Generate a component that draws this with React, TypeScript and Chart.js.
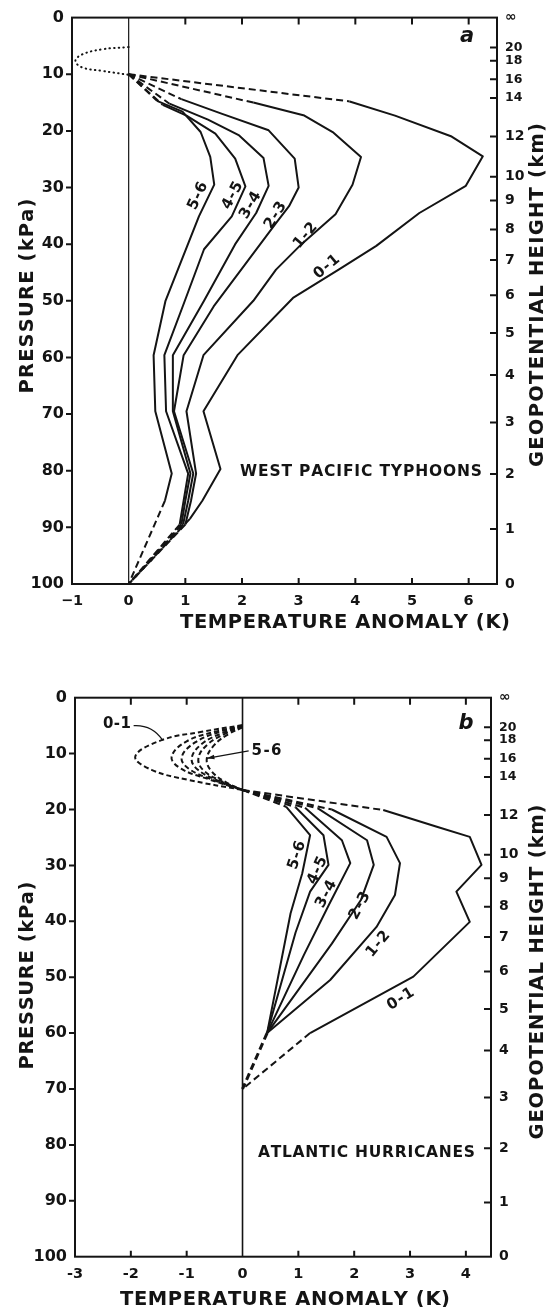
import React, { useEffect, useRef } from "react";
import { Chart, registerables } from "chart.js";
Chart.register(...registerables);

type XY = [number, number];

const FONT = '"DejaVu Sans", sans-serif';
const INK = "#141414";

// ---------- shared axis data ----------
const pTicks = [0, 10, 20, 30, 40, 50, 60, 70, 80, 90, 100];
const pTickLabels = ["0", "10", "20", "30", "40", "50", "60", "70", "80", "90", "100"];
// geopotential height (km) tick positions, given as pressure (kPa)
const zTickPressure = [0, 5.3, 7.6, 10.9, 14.2, 21.0, 28.1, 32.3, 37.4, 42.8, 49.0, 55.7, 63.1, 71.5, 80.6, 90.3, 100];
const zTickLabels = ["∞", "20", "18", "16", "14", "12", "10", "9", "8", "7", "6", "5", "4", "3", "2", "1", "0"];

// ---------- panel a: West Pacific typhoons [T anomaly (K), pressure (kPa)] ----------
const aXTicks = [-1, 0, 1, 2, 3, 4, 5, 6];
const aXTickLabels = ["−1", "0", "1", "2", "3", "4", "5", "6"];

const a01Up: XY[] = [[0, 10], [3.9, 14.8]];
const a01: XY[] = [[3.9, 14.8], [4.7, 17.3], [5.7, 21], [6.25, 24.5], [5.95, 29.7], [5.13, 34.5], [4.37, 40.3], [3.72, 44.4], [2.9, 49.5], [1.92, 59.6], [1.32, 69.5], [1.62, 79.7], [1.3, 85.3], [1.08, 88.5]];
const a01Low: XY[] = [[1.08, 88.5], [0, 100]];

const a12Up: XY[] = [[0, 10], [2.2, 15]];
const a12: XY[] = [[2.2, 15], [3.1, 17.3], [3.6, 20.2], [4.1, 24.6], [3.95, 29.5], [3.65, 34.7], [3.05, 40], [2.6, 44.5], [2.2, 50], [1.32, 59.6], [1.02, 69.5], [1.19, 80.5], [1.1, 85.3], [1.0, 89.5]];
const a12Low: XY[] = [[1.0, 89.5], [0, 100]];

const a23Up: XY[] = [[0, 10], [0.93, 14.4]];
const a23: XY[] = [[0.93, 14.4], [1.65, 17], [2.47, 19.9], [2.93, 24.9], [3.0, 30], [2.83, 33.3], [2.6, 36.3], [1.5, 51], [0.97, 59.6], [0.8, 69.5], [1.14, 80.5], [1.05, 85.3], [0.96, 89.5]];
const a23Low: XY[] = [[0.96, 89.5], [0, 100]];

const a34Up: XY[] = [[0, 10], [0.72, 15.2]];
const a34: XY[] = [[0.72, 15.2], [1.4, 18], [1.95, 20.8], [2.38, 24.8], [2.47, 29.7], [2.25, 34.5], [1.88, 40], [1.33, 50], [0.78, 59.6], [0.78, 69.5], [1.09, 80.5], [1.0, 85.3], [0.93, 89.5]];
const a34Low: XY[] = [[0.93, 89.5], [0, 100]];

const a45Up: XY[] = [[0, 10], [0.6, 15.4]];
const a45: XY[] = [[0.6, 15.4], [1.02, 17.3], [1.53, 20.5], [1.88, 24.9], [2.06, 29.8], [1.82, 35.1], [1.33, 40.9], [0.98, 50.3], [0.63, 59.6], [0.66, 69.5], [1.05, 80.5], [0.97, 85.3], [0.9, 89.5]];
const a45Low: XY[] = [[0.9, 89.5], [0, 100]];

const a56Up: XY[] = [[0, 10], [0.5, 14.7]];
const a56: XY[] = [[0.5, 14.7], [0.95, 16.6], [1.27, 20.2], [1.44, 24.6], [1.51, 29.5], [1.24, 35.1], [0.65, 50], [0.44, 59.6], [0.47, 69.5], [0.76, 80.5], [0.64, 85.3]];
const a56Low: XY[] = [[0.64, 85.3], [0, 100]];

const aDotted: XY[] = [[0, 5.2], [-0.47, 5.6], [-0.82, 6.5], [-0.94, 7.65], [-0.82, 8.8], [-0.47, 9.4], [0, 10.1]];

const aCurveLabels = ["5-6", "4-5", "3-4", "2-3", "1-2", "0-1"];
const aCurveLabelPos: XY[] = [[1.2, 31.4], [1.81, 31.3], [2.13, 33.0], [2.57, 34.8], [3.1, 38.3], [3.48, 43.8]];
const aCurveLabelAngle = [-65, -62, -60, -58, -50, -40];

// ---------- panel b: Atlantic hurricanes ----------
const bXTicks = [-3, -2, -1, 0, 1, 2, 3, 4];
const bXTickLabels = ["-3", "-2", "-1", "0", "1", "2", "3", "4"];

const b01Loop: XY[] = [[0, 4.9], [-0.73, 6.1], [-1.45, 7.6], [-1.92, 10.5], [-1.63, 12.9], [-0.97, 14.7], [0, 16.5]];
const b12Loop: XY[] = [[0, 5.1], [-0.45, 6.0], [-1.0, 7.8], [-1.27, 10.6], [-1.1, 12.7], [-0.6, 14.6], [0, 16.5]];
const b23Loop: XY[] = [[0, 5.1], [-0.4, 6.1], [-0.85, 8.0], [-1.09, 10.7], [-0.95, 12.8], [-0.5, 14.8], [0, 16.5]];
const b34Loop: XY[] = [[0, 5.2], [-0.35, 6.3], [-0.72, 8.2], [-0.91, 10.8], [-0.8, 12.9], [-0.42, 14.9], [0, 16.5]];
const b45Loop: XY[] = [[0, 5.2], [-0.3, 6.4], [-0.62, 8.3], [-0.79, 10.8], [-0.7, 13.0], [-0.36, 15.0], [0, 16.5]];
const b56Loop: XY[] = [[0, 5.3], [-0.25, 6.5], [-0.5, 8.4], [-0.64, 10.9], [-0.56, 13.1], [-0.3, 15.1], [0, 16.5]];

const b01Up: XY[] = [[0, 16.5], [2.52, 20.1]];
const b12Up: XY[] = [[0, 16.5], [1.6, 20.0]];
const b23Up: XY[] = [[0, 16.5], [1.35, 19.8]];
const b34Up: XY[] = [[0, 16.5], [1.12, 19.7]];
const b45Up: XY[] = [[0, 16.5], [0.95, 19.6]];
const b56Up: XY[] = [[0, 16.5], [0.78, 19.5]];

const b01: XY[] = [[2.52, 20.1], [3.48, 23.1], [4.07, 24.9], [4.28, 29.9], [3.83, 34.7], [4.07, 40.1], [3.06, 49.9], [1.21, 60]];
const b12: XY[] = [[1.6, 20.0], [2.58, 24.9], [2.82, 29.6], [2.73, 35.3], [2.4, 41], [1.57, 50.5], [0.44, 60]];
const b23: XY[] = [[1.35, 19.8], [2.23, 25.5], [2.35, 29.9], [2.12, 36.2], [1.6, 44], [0.44, 60]];
const b34: XY[] = [[1.12, 19.7], [1.78, 25.5], [1.93, 29.6], [1.55, 37], [1.1, 46], [0.44, 60]];
const b45: XY[] = [[0.95, 19.6], [1.45, 24.6], [1.54, 29.9], [1.21, 34.7], [0.95, 42], [0.44, 60]];
const b56: XY[] = [[0.78, 19.5], [1.21, 24.6], [1.07, 31.4], [0.86, 38.6], [0.44, 60]];

const b01Low: XY[] = [[1.21, 60], [0, 70]];
const bInnerLow: XY[] = [[0.44, 60], [0, 70]];

const bCurveLabels = ["5-6", "4-5", "3-4", "2-3", "1-2", "0-1"];
const bCurveLabelPos: XY[] = [[0.95, 28.1], [1.32, 30.8], [1.48, 35.0], [2.08, 37.1], [2.41, 43.9], [2.82, 53.7]];
const bCurveLabelAngle = [-72, -65, -62, -62, -50, -32];

// ---------- helpers ----------
type Kind = "solid" | "dash" | "dot" | "curve";
function line(pts: XY[], kind: Kind, width = 2) {
  return {
    data: pts.map(([x, y]) => ({ x, y })),
    borderColor: INK,
    borderWidth: width,
    borderDash: kind === "dash" ? [7, 4] : kind === "curve" ? [5, 3] : kind === "dot" ? [0.5, 4.2] : [],
    borderCapStyle: kind === "dot" ? "round" : "butt",
    borderJoinStyle: "round",
    tension: kind === "dot" || kind === "curve" ? 0.4 : 0,
    pointRadius: 0,
    fill: false,
    clip: false,
  };
}

function spaced(ctx: CanvasRenderingContext2D, text: string, cx: number, cy: number, width: number, size: number, rot = 0, weight = "bold") {
  ctx.save();
  ctx.font = `${weight} ${size}px ${FONT}`;
  ctx.fillStyle = INK;
  ctx.translate(cx, cy);
  if (rot) ctx.rotate(rot);
  const chars = Array.from(text);
  const ws = chars.map((c) => ctx.measureText(c).width);
  const nat = ws.reduce((a, b) => a + b, 0);
  const gap = chars.length > 1 ? (width - nat) / (chars.length - 1) : 0;
  let x = -width / 2;
  ctx.textAlign = "left";
  ctx.textBaseline = "alphabetic";
  chars.forEach((c, i) => {
    ctx.fillText(c, x, size * 0.36);
    x += ws[i] + gap;
  });
  ctx.restore();
}

interface Title { text: string; x: number; y: number; w: number; size: number; rot: number }
interface Spec {
  height: number;
  xMin: number; xMax: number;
  xTicks: number[]; xTickLabels: string[];
  padTop: number; leftW: number; rightW: number; bottomH: number;
  datasets: any[];
  zeroWidth: number;
  titles: Title[];
  letter: { text: string; x: number; y: number };
  caption: { text: string; at: XY; w: number };
  curveLabels: string[]; curveLabelPos: XY[]; curveLabelAngle: number[];
  extras?: (ctx: CanvasRenderingContext2D, px: (v: number) => number, py: (v: number) => number) => void;
}

const specA: Spec = {
  height: 655,
  xMin: -1, xMax: 6.5,
  xTicks: aXTicks, xTickLabels: aXTickLabels,
  padTop: 13, leftW: 72, rightW: 54, bottomH: 71,
  zeroWidth: 1.2,
  datasets: [
    line(aDotted, "dot", 2),
    line(a01Up, "dash"), line(a01, "solid"), line(a01Low, "dash"),
    line(a12Up, "dash"), line(a12, "solid"), line(a12Low, "dash"),
    line(a23Up, "dash"), line(a23, "solid"), line(a23Low, "dash"),
    line(a34Up, "dash"), line(a34, "solid"), line(a34Low, "dash"),
    line(a45Up, "dash"), line(a45, "solid"), line(a45Low, "dash"),
    line(a56Up, "dash"), line(a56, "solid"), line(a56Low, "dash"),
  ],
  titles: [
    { text: "PRESSURE (kPa)", x: 26, y: 296, w: 195, size: 19.5, rot: -Math.PI / 2 },
    { text: "GEOPOTENTIAL HEIGHT (km)", x: 535.5, y: 295, w: 344, size: 19.5, rot: -Math.PI / 2 },
    { text: "TEMPERATURE ANOMALY (K)", x: 345, y: 620.5, w: 330, size: 19.5, rot: 0 },
  ],
  letter: { text: "a", x: 467, y: 37 },
  caption: { text: "WEST PACIFIC TYPHOONS", at: [4.1, 80], w: 242 },
  curveLabels: aCurveLabels, curveLabelPos: aCurveLabelPos, curveLabelAngle: aCurveLabelAngle,
};

const specB: Spec = {
  height: 652,
  xMin: -3, xMax: 4.45,
  xTicks: bXTicks, xTickLabels: bXTickLabels,
  padTop: 42.7, leftW: 75, rightW: 60, bottomH: 50.3,
  zeroWidth: 1.6,
  datasets: [
    line(b01Loop, "curve"), line(b12Loop, "curve"), line(b23Loop, "curve"),
    line(b34Loop, "curve"), line(b45Loop, "curve"), line(b56Loop, "curve"),
    line(b01Up, "dash"), line(b12Up, "dash"), line(b23Up, "dash"),
    line(b34Up, "dash"), line(b45Up, "dash"), line(b56Up, "dash"),
    line(b01, "solid"), line(b12, "solid"), line(b23, "solid"),
    line(b34, "solid"), line(b45, "solid"), line(b56, "solid"),
    line(b01Low, "dash"), line(bInnerLow, "dash", 3),
  ],
  titles: [
    { text: "PRESSURE (kPa)", x: 26, y: 320.5, w: 188, size: 19.5, rot: -Math.PI / 2 },
    { text: "GEOPOTENTIAL HEIGHT (km)", x: 535.5, y: 317, w: 335, size: 19.5, rot: -Math.PI / 2 },
    { text: "TEMPERATURE ANOMALY (K)", x: 285, y: 642.5, w: 330, size: 19.5, rot: 0 },
  ],
  letter: { text: "b", x: 466, y: 69 },
  caption: { text: "ATLANTIC HURRICANES", at: [2.22, 81.1], w: 217 },
  curveLabels: bCurveLabels, curveLabelPos: bCurveLabelPos, curveLabelAngle: bCurveLabelAngle,
  extras: (ctx, px, py) => {
    // "0-1" with curved leader
    spaced(ctx, "0-1", px(-2.25), py(4.5), 28, 15);
    ctx.save();
    ctx.strokeStyle = INK;
    ctx.lineWidth = 1.3;
    ctx.beginPath();
    ctx.moveTo(px(-1.95), py(5.0));
    ctx.quadraticCurveTo(px(-1.62), py(4.8), px(-1.43), py(7.6));
    ctx.stroke();
    // "5-6" with arrow
    spaced(ctx, "5-6", px(0.43), py(9.35), 30, 15);
    const x1 = px(0.11), y1 = py(9.5), x2 = px(-0.64), y2 = py(10.85);
    ctx.beginPath();
    ctx.moveTo(x1, y1);
    ctx.lineTo(x2, y2);
    ctx.stroke();
    const ang = Math.atan2(y2 - y1, x2 - x1);
    ctx.fillStyle = INK;
    ctx.beginPath();
    ctx.moveTo(x2, y2);
    ctx.lineTo(x2 - 8 * Math.cos(ang - 0.3), y2 - 8 * Math.sin(ang - 0.3));
    ctx.lineTo(x2 - 8 * Math.cos(ang + 0.3), y2 - 8 * Math.sin(ang + 0.3));
    ctx.closePath();
    ctx.fill();
    ctx.restore();
  },
};

function buildConfig(spec: Spec): any {
  const deco = {
    id: "deco",
    beforeDatasetsDraw(chart: any) {
      const ctx = chart.ctx as CanvasRenderingContext2D;
      const xs = chart.scales.x, ys = chart.scales.y;
      const x0 = xs.getPixelForValue(0);
      ctx.save();
      ctx.strokeStyle = INK;
      ctx.lineWidth = spec.zeroWidth;
      ctx.beginPath();
      ctx.moveTo(x0, ys.getPixelForValue(0));
      ctx.lineTo(x0, ys.getPixelForValue(100));
      ctx.stroke();
      ctx.restore();
    },
    afterDraw(chart: any) {
      const ctx = chart.ctx as CanvasRenderingContext2D;
      const xs = chart.scales.x, ys = chart.scales.y;
      const { left, right, top, bottom } = chart.chartArea;
      const px = (v: number) => xs.getPixelForValue(v);
      const py = (v: number) => ys.getPixelForValue(v);
      ctx.save();
      ctx.strokeStyle = INK;
      ctx.lineWidth = 2;
      ctx.strokeRect(left, top, right - left, bottom - top);
      ctx.beginPath();
      spec.xTicks.forEach((t) => {
        const x = px(t);
        if (x > left + 2 && x < right - 2 && t !== 0) {
          ctx.moveTo(x, top); ctx.lineTo(x, top + 7);
          ctx.moveTo(x, bottom); ctx.lineTo(x, bottom - 6);
        }
      });
      pTicks.forEach((p) => {
        if (p > 0 && p < 100) { const y = py(p); ctx.moveTo(left - 6, y); ctx.lineTo(left, y); }
      });
      zTickPressure.forEach((p) => {
        if (p > 0 && p < 100) { const y = py(p); ctx.moveTo(right - 7, y); ctx.lineTo(right, y); }
      });
      ctx.stroke();
      ctx.restore();

      spec.titles.forEach((t) => spaced(ctx, t.text, t.x, t.y, t.w, t.size, t.rot));

      ctx.save();
      ctx.font = `italic bold 21px ${FONT}`;
      ctx.fillStyle = INK;
      ctx.textAlign = "center";
      ctx.textBaseline = "middle";
      ctx.fillText(spec.letter.text, spec.letter.x, spec.letter.y);
      ctx.restore();

      spaced(ctx, spec.caption.text, px(spec.caption.at[0]), py(spec.caption.at[1]), spec.caption.w, 15.5);

      spec.curveLabels.forEach((lab, i) => {
        const [t, p] = spec.curveLabelPos[i];
        spaced(ctx, lab, px(t), py(p), 29, 15, (spec.curveLabelAngle[i] * Math.PI) / 180);
      });

      if (spec.extras) spec.extras(ctx, px, py);
    },
  };

  return {
    type: "line",
    data: { datasets: spec.datasets },
    options: {
      animation: false,
      responsive: false,
      maintainAspectRatio: false,
      devicePixelRatio: 1,
      layout: { padding: { top: spec.padTop, left: 0, right: 0, bottom: 0 } },
      plugins: { legend: { display: false }, tooltip: { enabled: false } },
      elements: { point: { radius: 0 } },
      scales: {
        x: {
          type: "linear",
          position: "bottom",
          min: spec.xMin,
          max: spec.xMax,
          grid: { display: false, drawTicks: false },
          border: { display: false },
          afterBuildTicks: (s: any) => { s.ticks = spec.xTicks.map((v) => ({ value: v })); },
          ticks: {
            autoSkip: false,
            maxRotation: 0,
            padding: 9,
            color: INK,
            font: { family: FONT, size: 14.5, weight: "bold" },
            callback: (_v: any, i: number) => spec.xTickLabels[i],
          },
          afterFit: (s: any) => { s.height = spec.bottomH; },
        },
        y: {
          type: "linear",
          position: "left",
          reverse: true,
          min: 0,
          max: 100,
          grid: { display: false, drawTicks: false },
          border: { display: false },
          afterBuildTicks: (s: any) => { s.ticks = pTicks.map((v) => ({ value: v })); },
          ticks: {
            autoSkip: false,
            padding: 8,
            color: INK,
            font: { family: FONT, size: 16, weight: "bold" },
            callback: (_v: any, i: number) => pTickLabels[i],
          },
          afterFit: (s: any) => { s.width = spec.leftW; },
        },
        y2: {
          type: "linear",
          position: "right",
          reverse: true,
          min: 0,
          max: 100,
          grid: { display: false, drawTicks: false },
          border: { display: false },
          afterBuildTicks: (s: any) => { s.ticks = zTickPressure.map((v) => ({ value: v })); },
          ticks: {
            autoSkip: false,
            padding: 8,
            color: INK,
            font: (c: any) => ({ family: FONT, weight: "bold", size: c.tick && c.tick.value > 1 && c.tick.value < 16 ? 12.5 : 14 }),
            callback: (_v: any, i: number) => zTickLabels[i],
          },
          afterFit: (s: any) => { s.width = spec.rightW; },
        },
      },
    },
    plugins: [deco],
  };
}

function Panel({ spec, top }: { spec: Spec; top: number }) {
  const ref = useRef<HTMLCanvasElement>(null);
  useEffect(() => {
    const chart = new Chart(ref.current as HTMLCanvasElement, buildConfig(spec));
    return () => chart.destroy();
  }, [spec]);
  return (
    <canvas
      ref={ref}
      width={551}
      height={spec.height}
      style={{ position: "absolute", left: 0, top, width: 551, height: spec.height }}
    />
  );
}

export default function App() {
  return (
    <div style={{ position: "absolute", left: 0, top: 0, width: 551, height: 1307, background: "#fff" }}>
      <Panel spec={specA} top={0} />
      <Panel spec={specB} top={655} />
    </div>
  );
}
